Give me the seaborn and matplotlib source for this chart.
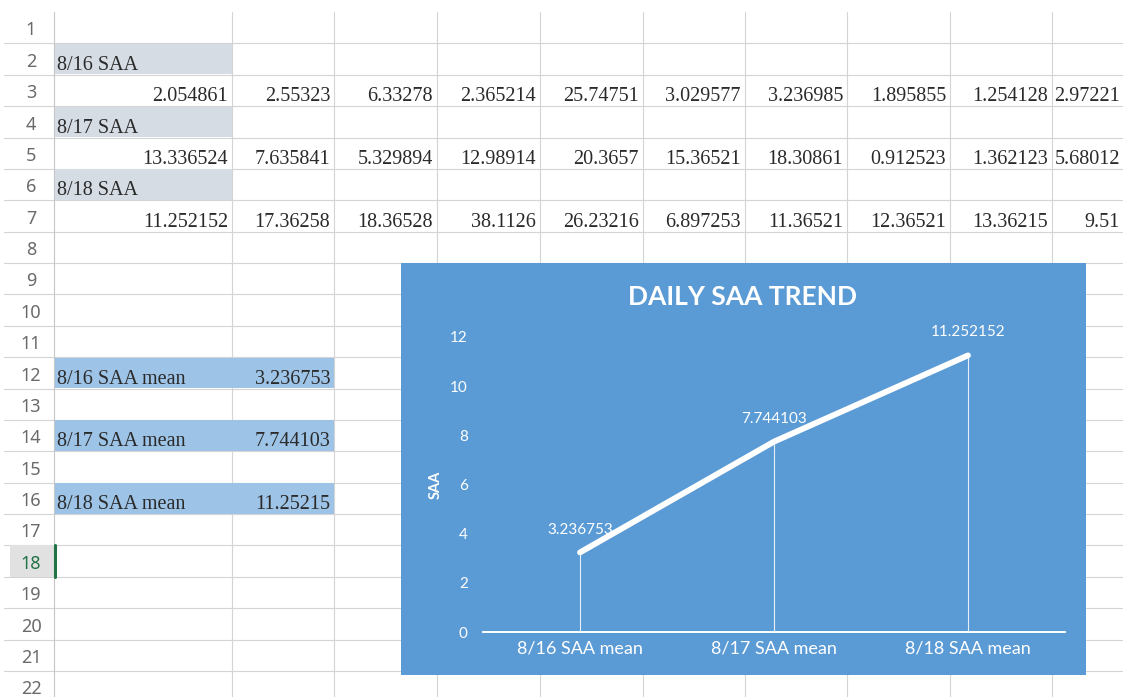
import matplotlib
matplotlib.use("Agg")
import matplotlib.pyplot as plt
from matplotlib.patches import Rectangle
import seaborn as sns

# --- sheet contents ---
day_labels = ["8/16 SAA", "8/17 SAA", "8/18 SAA"]
saa_0816 = [2.054861, 2.55323, 6.33278, 2.365214, 25.74751, 3.029577, 3.236985, 1.895855, 1.254128, 2.97221]
saa_0817 = [13.336524, 7.635841, 5.329894, 12.98914, 20.3657, 15.36521, 18.30861, 0.912523, 1.362123, 5.68012]
saa_0818 = [11.252152, 17.36258, 18.36528, 38.1126, 26.23216, 6.897253, 11.36521, 12.36521, 13.36215, 9.51]
mean_labels = ["8/16 SAA mean", "8/17 SAA mean", "8/18 SAA mean"]
mean_values = [3.236753, 7.744103, 11.252152]
chart_title = "DAILY SAA TREND"
y_label = "SAA"

W, H = 1123, 697
ROW_TOP, ROW_H = 12, 31.38
COL_EDGES = [54, 232, 334, 437, 540, 643, 745, 847, 950, 1052, 1124]
GRID = "#D4D4D4"
CHART_BLUE = "#5B9BD5"

sns.set_theme(style="white")
plt.rcParams["font.family"] = ["Lato", "DejaVu Sans"]

fig = plt.figure(figsize=(W / 100, H / 100), dpi=100)
bg = fig.add_axes([0, 0, 1, 1])
bg.set_xlim(0, W)
bg.set_ylim(H, 0)
bg.axis("off")


def row_top(r):
    return ROW_TOP + (r - 1) * ROW_H


# grid lines
for k in range(1, 23):
    y = row_top(k) + ROW_H
    bg.plot([4, W], [y, y], color=GRID, lw=0.8, zorder=1)
for x in COL_EDGES:
    bg.plot([x, x], [ROW_TOP, H], color=GRID if x != 54 else "#C6C6C6", lw=0.8, zorder=1)

# selected row header
bg.add_patch(Rectangle((10, row_top(18)), 44, ROW_H, fc="#E1E1E1", ec="none", zorder=1.5))
bg.plot([55, 55], [row_top(18), row_top(18) + ROW_H], color="#217346", lw=2.2, zorder=3)

# row numbers
for r in range(1, 23):
    bg.text(31, row_top(r) + ROW_H - 8, str(r), ha="center", va="baseline",
            fontsize=13, family="Noto Sans",
            color="#217346" if r == 18 else "#6A6A6A", zorder=3)

cell_font = dict(family="Liberation Serif", fontsize=14.5, color="#2A2A2A", zorder=4)

# day header cells + value rows
for i, (lab, vals) in enumerate(zip(day_labels, [saa_0816, saa_0817, saa_0818])):
    r = 2 + 2 * i
    bg.add_patch(Rectangle((COL_EDGES[0] + 1, row_top(r) + 0.5), COL_EDGES[1] - COL_EDGES[0] - 1, ROW_H - 1,
                           fc="#D6DCE4", ec="none", zorder=2))
    bg.text(COL_EDGES[0] + 3, row_top(r) + ROW_H - 5, lab, ha="left", va="baseline", **cell_font)
    for c, v in enumerate(vals):
        bg.text(COL_EDGES[c + 1] - 4, row_top(r + 1) + ROW_H - 5, str(v), ha="right", va="baseline",
                clip_on=True, **cell_font)

# mean cells
for i, (lab, v) in enumerate(zip(mean_labels, mean_values)):
    r = 12 + 2 * i
    bg.add_patch(Rectangle((COL_EDGES[0] + 1, row_top(r) + 0.5), COL_EDGES[2] - COL_EDGES[0] - 1, ROW_H - 1,
                           fc="#9DC3E6", ec="none", zorder=2))
    bg.text(COL_EDGES[0] + 3, row_top(r) + ROW_H - 5, lab, ha="left", va="baseline", **cell_font)
    bg.text(COL_EDGES[2] - 4, row_top(r) + ROW_H - 5, f"{v:.7g}", ha="right", va="baseline", **cell_font)

# chart area
bg.add_patch(Rectangle((401, 263), 685, 412, fc=CHART_BLUE, ec="none", zorder=5))
bg.text(742, 297, chart_title, ha="center", va="center", color="white",
        fontsize=19, fontweight="bold", zorder=6)

ax = fig.add_axes([483 / W, 1 - 632 / H, 582 / W, 295 / H])
ax.patch.set_alpha(0)
sns.lineplot(x=mean_labels, y=mean_values, ax=ax, color="white", linewidth=4.2,
             sort=False, solid_capstyle="round")
ax.vlines(range(len(mean_values)), 0, mean_values, colors="white", lw=0.8, alpha=0.85)
for i, v in enumerate(mean_values):
    ax.annotate(str(v), (i, v), xytext=(0, 16.5), textcoords="offset points",
                ha="center", va="center", color="white", fontsize=11)

ax.set_xlim(-0.5, 2.5)
ax.set_ylim(0, 12)
ax.set_yticks(range(0, 13, 2))
for side in ["top", "right", "left"]:
    ax.spines[side].set_visible(False)
ax.spines["bottom"].set_color("white")
ax.spines["bottom"].set_linewidth(1.4)
ax.tick_params(axis="y", length=0, pad=11, labelcolor="white", labelsize=11)
ax.tick_params(axis="x", length=0, pad=6, labelcolor="white", labelsize=13)
ax.set_ylabel(y_label, color="white", fontsize=10.5, fontweight="bold", labelpad=5)
ax.set_xlabel("")
ax.grid(False)

fig.savefig("out.png", dpi=100)
